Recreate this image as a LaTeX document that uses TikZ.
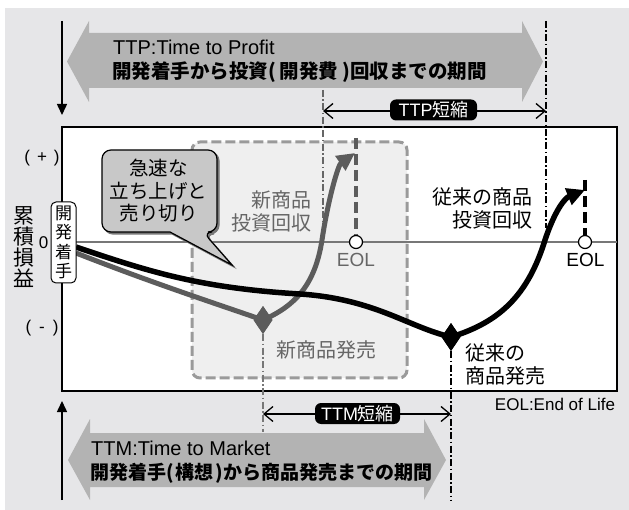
\documentclass[tikz,border=0pt]{standalone}
\usepackage{fontspec}
\setmainfont{Noto Sans CJK JP}
\newfontfamily\lat{Liberation Sans}
\usetikzlibrary{arrows.meta,shapes.geometric}
\definecolor{bgc}{HTML}{E6E6E8}
\definecolor{arrowc}{HTML}{B3B3B3}
\definecolor{curveg}{HTML}{5C5C5C}
\definecolor{textg}{HTML}{666666}
\definecolor{boxfill}{HTML}{EFEFEF}
\definecolor{boxline}{HTML}{9A9A9A}
\definecolor{bubfill}{HTML}{C8C8C8}
\definecolor{zerol}{HTML}{777777}
\newcommand\fsz[2]{\fontsize{#1}{#2}\selectfont}
\begin{document}
\begin{tikzpicture}[x=1pt,y=-1pt,
  bigarrow/.style={fill=arrowc},
  plotframe/.style={draw=black,fill=white,line width=1.3pt},
  dashbox/.style={draw=boxline,fill=boxfill,line width=3pt,dash pattern=on 10pt off 4pt,rounded corners=8pt},
  zeroline/.style={draw=zerol,line width=1.5pt},
  ddline/.style={line width=1.8pt,dash pattern=on 7pt off 2.5pt on 1.5pt off 2.5pt},
  gcurve/.style={draw=curveg,line width=5pt,line join=round,-{Triangle[length=18pt,width=17pt]}},
  bcurve/.style={draw=black,line width=5.5pt,line join=round,-{Triangle[length=18pt,width=17pt]}},
  gdia/.style={diamond,fill=curveg,minimum width=19pt,minimum height=28pt,inner sep=0pt},
  bdia/.style={diamond,fill=black,minimum width=19pt,minimum height=28pt,inner sep=0pt},
  eolc/.style={circle,draw=black,fill=white,line width=1.2pt,minimum size=13pt,inner sep=0pt},
  eoldash/.style={line width=4pt,dash pattern=on 11pt off 5pt},
  bracket/.style={line width=1.3pt,{Straight Barb[length=9pt,width=15pt]}-{Straight Barb[length=9pt,width=15pt]}},
  tagbox/.style={fill=black,text=white,rounded corners=6pt,minimum height=21pt,inner sep=0pt,font=\fsz{18}{20}},
  vertarrow/.style={line width=1.5pt,-{Triangle[length=11pt,width=10pt]}},
  jp/.style={inner sep=0pt,font=\fsz{20}{23}},
  eoltext/.style={inner sep=0pt,font=\lat\fsz{19}{22}}
]
\useasboundingbox (0,0) rectangle (629,510);
\fill[bgc] (5,8) rectangle (629,510);

% big arrows
\fill[bigarrow] (67,61.5) -- (89,21) -- (89,33) -- (522,33) -- (522,21) -- (543,61.5) -- (522,102) -- (522,88) -- (89,88) -- (89,102) -- cycle;
\fill[bigarrow] (68,460) -- (90,419) -- (90,433) -- (424,433) -- (424,419) -- (446,460) -- (424,500) -- (424,487) -- (90,487) -- (90,500) -- cycle;
\node[anchor=base west,inner sep=0pt,font=\lat\fsz{20}{24}] (ttpen) at (113,55) {TTP:Time to Profit};
\node[anchor=base west,inner sep=0pt,font=\bfseries\fsz{19.5}{22}] (ttpjp) at (112,79) {開発着手から投資(\hspace{4pt}開発費\hspace{4pt})回収までの期間};
\node[anchor=base west,inner sep=0pt,font=\lat\fsz{20}{24}] (ttmen) at (91,455) {TTM:Time to Market};
\node[anchor=base west,inner sep=0pt,font=\bfseries\fsz{19}{22}] (ttmjp) at (90,479) {開発着手(\hspace{2pt}構想\hspace{2pt})から商品発売までの期間};

% vertical arrows
\coordinate (dtop) at (62,21); \coordinate (dbot) at (62,115);
\draw[vertarrow] (dtop) -- (dbot);
\coordinate (ubot) at (62,500); \coordinate (utop) at (62,401);
\draw[vertarrow] (ubot) -- (utop);

% plot frame
\draw[plotframe] (62,127) rectangle (617,391);
\draw[dashbox] (192,142) rectangle (407,378);
\coordinate (zl) at (62,242); \coordinate (zr) at (617,242);
\draw[zeroline] (zl) -- (zr);

% vertical reference lines
\coordinate (ttpl1) at (323,90); \coordinate (ttpl2) at (323,228);
\draw[ddline,draw=textg,line width=1.5pt] (ttpl1) -- (ttpl2);
\coordinate (ttpr1) at (546,21); \coordinate (ttpr2) at (546,228);
\draw[ddline,draw=black] (ttpr1) -- (ttpr2);

% diamonds and EOL
\node[gdia] (gd) at (263,320) {};
\node[bdia] (bd) at (451,337) {};
\coordinate (ttml) at (263,432);
\coordinate (ttmr) at (451,500);
\draw[ddline,draw=zerol,line width=2.5pt] (gd.south) -- (ttml);
\draw[ddline,draw=black] (bd.south) -- (ttmr);

\node[eolc] (ge) at (356,242) {};
\node[eolc] (be) at (585,242) {};
\coordinate (getop) at (356,138);
\coordinate (betop) at (585,180);
\draw[eoldash,draw=curveg] (getop) -- (ge.north);
\draw[eoldash,draw=black] (betop) -- (be.north);

% curves
\coordinate (gs) at (76,253);
\coordinate (bs) at (76,247);
\coordinate (gtip) at (355,153);
\coordinate (btip) at (585,190);
\draw[gcurve] (gs) .. controls (150,282) and (205,300) .. (gd.center)
  .. controls (295,306) and (315,285) .. (322,240)
  .. controls (328,200) and (338,165) .. (gtip);
\draw[bcurve] (bs) .. controls (150,272) and (200,288) .. (300,294)
  .. controls (375,299) and (408,327) .. (bd.center)
  .. controls (500,322) and (528,295) .. (545,240)
  .. controls (555,210) and (565,198) .. (btip);
\node[gdia] (gd2) at (263,320) {};
\node[bdia] (bd2) at (451,337) {};

% brackets
\coordinate (ttpa) at (323,111); \coordinate (ttpb) at (546,111);
\draw[bracket] (ttpa) -- (ttpb);
\node[tagbox,minimum width=87pt] (ttptag) at (433.5,110) {{\lat TTP}短縮};
\coordinate (ttma) at (263,414); \coordinate (ttmb) at (451,414);
\draw[bracket] (ttma) -- (ttmb);
\node[tagbox,minimum width=85pt] (ttmtag) at (357.5,413.5) {{\lat TTM}短縮};

% axis labels
\node[inner sep=0pt,align=center,font=\fsz{21}{21}] (yl) at (24,247) {累\\積\\損\\益};
\node[draw=black,fill=white,line width=1pt,rounded corners=5pt,minimum width=25pt,minimum height=81pt,inner sep=0pt,align=center,font=\fsz{17}{19.5}] (start) at (63.5,242.5) {開\\発\\着\\手};
\node[inner sep=0pt,font=\lat\fsz{17}{20}] (zero) at (43.5,243) {0};
\node[inner sep=0pt,font=\lat\fsz{17}{20}] (plus) at (42,158) {(\hspace{7pt}+\hspace{7pt})};
\node[inner sep=0pt,font=\lat\fsz{17}{20}] (minus) at (42,328) {(\hspace{8pt}-\hspace{8pt})};

% bubble
\draw[draw=zerol,fill=zerol,line width=1.2pt] (162,152) [rounded corners=9pt] -- (219,152) -- (219,234) -- (205,234) [sharp corners] -- (234,267) -- (172,234) [rounded corners=9pt] -- (104,234) -- (104,152) -- (162,152);
\draw[draw=black,fill=bubfill,line width=1.2pt] (160,150) [rounded corners=9pt] -- (217,150) -- (217,232) -- (203,232) [sharp corners] -- (232,265) -- (170,232) [rounded corners=9pt] -- (102,232) -- (102,150) -- (160,150);
\node[inner sep=0pt,align=center,font=\fsz{19.5}{22.5}] (bubtext) at (158.5,191) {急速な\\立ち上げと\\売り切り};

% texts
\node[jp,text=textg,align=right,anchor=east] (newrec) at (312,211) {新商品\\投資回収};
\node[jp,align=right,anchor=east] (oldrec) at (533,208) {従来の商品\\投資回収};
\node[jp,text=textg] (newlaunch) at (326.5,350) {新商品発売};
\node[jp,align=left,anchor=west] (oldlaunch) at (465,364) {従来の\\商品発売};
\node[eoltext,text=textg] (geol) at (356,260) {EOL};
\node[eoltext] (beol) at (585.5,260) {EOL};
\node[inner sep=0pt,font=\lat\fsz{17}{20}] (eolnote) at (555,404) {EOL:End of Life};
\end{tikzpicture}
\end{document}
